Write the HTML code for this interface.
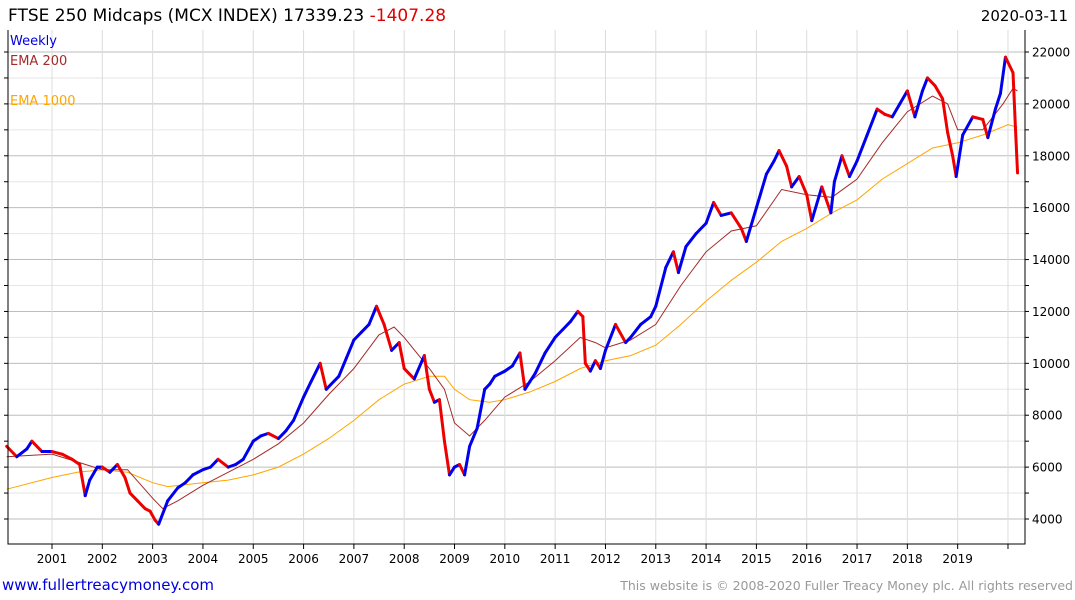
<!DOCTYPE html>
<html><head><meta charset="utf-8"><style>
body{margin:0;background:#fff;font-family:"Liberation Sans","DejaVu Sans",sans-serif}
#wrap{position:relative;width:1075px;height:600px;overflow:hidden}
</style></head><body><div id="wrap">
<svg id="svg" width="1075" height="600" xmlns="http://www.w3.org/2000/svg" font-family="DejaVu Sans, Liberation Sans, sans-serif">
<text x="8" y="21" font-size="17" fill="#000">FTSE 250 Midcaps (MCX INDEX) 17339.23 <tspan fill="#e00000">-1407.28</tspan></text>
<text x="1068" y="21" font-size="15" text-anchor="end" fill="#000">2020-03-11</text>
<g id="grid"></g><g id="ema1000"></g><g id="ema200"></g><g id="price"></g><g id="axes"></g>
<text x="10" y="45" font-size="13" fill="#0000dd">Weekly</text>
<text x="10" y="65" font-size="13" fill="#a52a2a">EMA 200</text>
<text x="10" y="105" font-size="13" fill="#ffa500">EMA 1000</text>
<text x="2" y="590" font-size="15" fill="#0000dd">www.fullertreacymoney.com</text>
<text x="1073" y="590" font-size="12.5" text-anchor="end" fill="#999">This website is © 2008-2020 Fuller Treacy Money plc. All rights reserved</text>
</svg></div>
<script>
const priceT=[2000.1,2000.3,2000.5,2000.6,2000.8,2001.0,2001.2,2001.4,2001.55,2001.66,2001.75,2001.9,2002.0,2002.15,2002.3,2002.45,2002.55,2002.7,2002.85,2002.95,2003.05,2003.12,2003.3,2003.5,2003.65,2003.8,2004.0,2004.15,2004.3,2004.5,2004.65,2004.8,2005.0,2005.15,2005.3,2005.5,2005.65,2005.8,2006.0,2006.15,2006.33,2006.45,2006.6,2006.7,2006.85,2007.0,2007.15,2007.3,2007.45,2007.6,2007.75,2007.9,2008.0,2008.2,2008.4,2008.5,2008.6,2008.7,2008.8,2008.9,2009.0,2009.1,2009.2,2009.3,2009.45,2009.6,2009.7,2009.8,2010.0,2010.15,2010.3,2010.4,2010.5,2010.6,2010.8,2011.0,2011.15,2011.3,2011.45,2011.55,2011.6,2011.7,2011.8,2011.9,2012.0,2012.2,2012.4,2012.5,2012.7,2012.9,2013.0,2013.2,2013.35,2013.45,2013.6,2013.8,2014.0,2014.15,2014.3,2014.5,2014.7,2014.8,2015.0,2015.2,2015.35,2015.45,2015.6,2015.7,2015.85,2016.0,2016.1,2016.3,2016.48,2016.55,2016.7,2016.85,2017.0,2017.2,2017.4,2017.55,2017.7,2017.85,2018.0,2018.15,2018.3,2018.4,2018.55,2018.7,2018.8,2018.9,2018.97,2019.1,2019.3,2019.5,2019.6,2019.75,2019.85,2019.95,2020.0,2020.1,2020.15,2020.19];
const priceV=[6800,6400,6700,7000,6600,6600,6500,6300,6100,4900,5500,6000,6000,5800,6100,5600,5000,4700,4400,4300,3950,3800,4700,5200,5400,5700,5900,6000,6300,6000,6100,6300,7000,7200,7300,7100,7400,7800,8700,9300,10000,9000,9300,9500,10200,10900,11200,11500,12200,11500,10500,10800,9800,9400,10300,9000,8500,8600,7000,5700,6000,6100,5700,6800,7500,9000,9200,9500,9700,9900,10400,9000,9300,9600,10400,11000,11300,11600,12000,11800,10000,9700,10100,9800,10500,11500,10800,11000,11500,11800,12200,13700,14300,13500,14500,15000,15400,16200,15700,15800,15200,14700,16000,17300,17800,18200,17600,16800,17200,16500,15500,16800,15800,17000,18000,17200,17800,18800,19800,19600,19500,20000,20500,19500,20500,21000,20700,20200,18900,18000,17200,18800,19500,19400,18700,19800,20400,21800,21600,21200,19000,17339];
const ema200T=[2000.1,2001.0,2001.5,2002.0,2002.5,2003.0,2003.2,2003.5,2004.0,2004.5,2005.0,2005.5,2006.0,2006.5,2007.0,2007.5,2007.8,2008.0,2008.5,2008.8,2009.0,2009.3,2009.6,2010.0,2010.5,2011.0,2011.5,2011.8,2012.0,2012.5,2013.0,2013.5,2014.0,2014.5,2015.0,2015.5,2016.0,2016.5,2017.0,2017.5,2018.0,2018.5,2018.8,2019.0,2019.5,2019.9,2020.1,2020.19];
const ema200V=[6400,6500,6200,5900,5900,4800,4400,4700,5300,5800,6300,6900,7700,8800,9800,11100,11400,11000,9800,9000,7700,7200,7800,8700,9300,10100,11000,10800,10600,10900,11500,13000,14300,15100,15300,16700,16500,16400,17100,18500,19700,20300,20000,19000,19000,20000,20600,20500];
const ema1000T=[2000.1,2001.0,2001.5,2002.0,2002.5,2003.0,2003.3,2004.0,2004.5,2005.0,2005.5,2006.0,2006.5,2007.0,2007.5,2008.0,2008.5,2008.8,2009.0,2009.3,2009.7,2010.0,2010.5,2011.0,2011.5,2012.0,2012.5,2013.0,2013.5,2014.0,2014.5,2015.0,2015.5,2016.0,2016.5,2017.0,2017.5,2018.0,2018.5,2019.0,2019.5,2020.0,2020.19];
const ema1000V=[5150,5600,5800,5900,5800,5400,5250,5400,5500,5700,6000,6500,7100,7800,8600,9200,9500,9500,9000,8600,8500,8600,8900,9300,9800,10100,10300,10700,11500,12400,13200,13900,14700,15200,15800,16300,17100,17700,18300,18500,18800,19200,19100];
const yTicks=[4000,6000,8000,10000,12000,14000,16000,18000,20000,22000];
const years=[2001,2002,2003,2004,2005,2006,2007,2008,2009,2010,2011,2012,2013,2014,2015,2016,2017,2018,2019];
const NS="http://www.w3.org/2000/svg";
const L=8,R=1025,T=30,B=544;
function X(t){return 52+(t-2001)*50.315;}
function Y(v){return 519-(v-4000)*0.025944;}
function mk(tag,at,parent){const e=document.createElementNS(NS,tag);for(const k in at)e.setAttribute(k,at[k]);document.getElementById(parent).appendChild(e);return e;}
for(let v=3000;v<=23000;v+=1000){const y=Y(v);if(y<T||y>B)continue;
 const g=mk('line',{x1:L,x2:R,y1:y,y2:y,stroke:v%2000===0?'#bdbdbd':'#e6e6e6','stroke-width':1},'grid');
 
 
 const tk=mk('line',{x1:R,x2:R+4,y1:y,y2:y,stroke:'#000'},'axes');
 
 
 const tl=mk('line',{x1:L-4,x2:L,y1:y,y2:y,stroke:'#000'},'axes');
 
 }
for(const v of yTicks){const t=mk('text',{x:R+7,y:Y(v)+4.5,'font-size':12,fill:'#000'},'axes');t.textContent=v;
 
 }
for(let yr=2001;yr<=2020;yr++){const x=X(yr);
 const g=mk('line',{x1:x,x2:x,y1:T,y2:B,stroke:'#dcdcdc'},'grid');
 
 
 const tk=mk('line',{x1:x,x2:x,y1:B,y2:B+5,stroke:'#000'},'axes');
 
 }
for(const yr of years){const t=mk('text',{x:X(yr),y:563,'font-size':12,'text-anchor':'middle',fill:'#000'},'axes');t.textContent=yr;
 
 }
const ax=mk('path',{d:`M${L},${T} V${B} H${R} V${T}`,fill:'none',stroke:'#000','stroke-width':1},'axes');


function line(T_,V_,col,w,parent,name){const d=T_.map((t,i)=>(i?'L':'M')+X(t).toFixed(1)+','+Y(V_[i]).toFixed(1)).join('');
 const p=mk('path',{d:d,fill:'none',stroke:col,'stroke-width':w},parent);
 
 }
line(ema1000T,ema1000V,'#ffa500',1,'ema1000','ema1000-line');
line(ema200T,ema200V,'#a52a2a',1,'ema200','ema200-line');
for(let i=1;i<priceT.length;i++){const up=priceV[i]>=priceV[i-1];
 const s=mk('line',{x1:X(priceT[i-1]),y1:Y(priceV[i-1]),x2:X(priceT[i]),y2:Y(priceV[i]),stroke:up?'#0000ee':'#ee0000','stroke-width':3,'stroke-linecap':'round'},'price');
 
 }
</script></body></html>
